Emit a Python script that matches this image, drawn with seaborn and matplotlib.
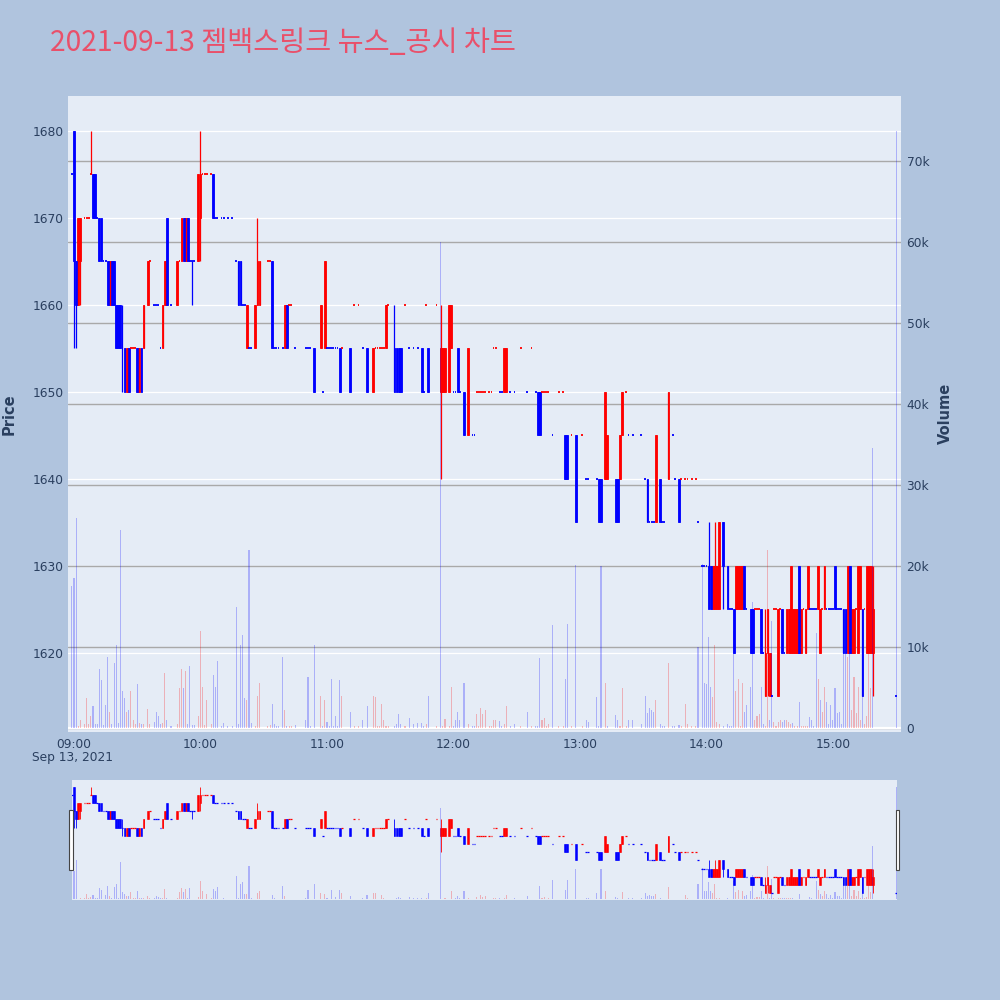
import matplotlib
matplotlib.use("Agg")
import matplotlib.pyplot as plt
from matplotlib.patches import Rectangle
import seaborn as sns
import numpy as np
import pandas as pd

# one-minute candles, 2021-09-13
times = [
    # 09h
    "08:59", "09:00", "09:01", "09:02", "09:03", "09:05", "09:06", "09:07", "09:08", "09:09",
    "09:10", "09:11", "09:12", "09:13", "09:14", "09:15", "09:16", "09:17", "09:18", "09:19",
    "09:20", "09:21", "09:22", "09:23", "09:24", "09:25", "09:26", "09:27", "09:28", "09:29",
    "09:30", "09:31", "09:32", "09:33", "09:35", "09:36", "09:38", "09:39", "09:40", "09:41",
    "09:42", "09:43", "09:44", "09:46", "09:49", "09:50", "09:51", "09:52", "09:53", "09:54",
    "09:55", "09:56", "09:57", "09:59",
    # 10h
    "10:00", "10:01", "10:02", "10:03", "10:05", "10:06", "10:07", "10:08", "10:10", "10:11",
    "10:13", "10:15", "10:17", "10:18", "10:19", "10:20", "10:21", "10:22", "10:23", "10:24",
    "10:26", "10:27", "10:28", "10:32", "10:33", "10:34", "10:35", "10:36", "10:37", "10:39",
    "10:40", "10:41", "10:42", "10:43", "10:45", "10:50", "10:51", "10:52", "10:54", "10:57",
    "10:58", "10:59",
    # 11h
    "11:00", "11:01", "11:02", "11:03", "11:04", "11:05", "11:06", "11:07", "11:11", "11:13",
    "11:15", "11:17", "11:19", "11:22", "11:23", "11:24", "11:25", "11:26", "11:27", "11:28",
    "11:29", "11:32", "11:33", "11:34", "11:35", "11:37", "11:39", "11:41", "11:43", "11:45",
    "11:46", "11:47", "11:48", "11:52", "11:54", "11:55", "11:56", "11:58", "11:59",
    # 12h
    "12:00", "12:01", "12:02", "12:03", "12:05", "12:07", "12:09", "12:10", "12:11", "12:12",
    "12:13", "12:14", "12:15", "12:17", "12:18", "12:19", "12:20", "12:22", "12:23", "12:24",
    "12:25", "12:27", "12:29", "12:32", "12:35", "12:37", "12:39", "12:40", "12:41", "12:42",
    "12:43", "12:44", "12:45", "12:47", "12:50", "12:52", "12:53", "12:54", "12:56", "12:58",
    # 13h
    "13:01", "13:03", "13:04", "13:08", "13:09", "13:10", "13:12", "13:13", "13:17", "13:18",
    "13:19", "13:20", "13:22", "13:23", "13:25", "13:29", "13:31", "13:32", "13:33", "13:34",
    "13:35", "13:36", "13:38", "13:39", "13:40", "13:42", "13:44", "13:45", "13:47", "13:48",
    "13:50", "13:51", "13:53", "13:55", "13:56", "13:58", "13:59",
    # 14h
    "14:00", "14:01", "14:02", "14:03", "14:04", "14:05", "14:06", "14:08", "14:10", "14:11",
    "14:12", "14:13", "14:14", "14:15", "14:16", "14:17", "14:18", "14:19", "14:21", "14:22",
    "14:23", "14:24", "14:25", "14:26", "14:27", "14:28", "14:29", "14:30", "14:31", "14:32",
    "14:33", "14:34", "14:35", "14:36", "14:37", "14:38", "14:39", "14:40", "14:41", "14:42",
    "14:43", "14:44", "14:45", "14:46", "14:47", "14:48", "14:49", "14:50", "14:51", "14:52",
    "14:53", "14:54", "14:55", "14:56", "14:57", "14:58", "14:59",
    # 15h
    "15:00", "15:01", "15:02", "15:03", "15:04", "15:05", "15:06", "15:07", "15:08", "15:09",
    "15:10", "15:11", "15:12", "15:13", "15:14", "15:15", "15:16", "15:17", "15:18", "15:19",
    "15:30",
]

opens = [
    1675, 1680, 1665, 1660, 1665, 1670, 1670, 1670, 1675, 1675,
    1675, 1670, 1670, 1670, 1665, 1665, 1665, 1660, 1665, 1665,
    1660, 1660, 1660, 1655, 1655, 1650, 1655, 1655, 1655, 1655,
    1655, 1650, 1655, 1655, 1660, 1665, 1660, 1660, 1660, 1655,
    1655, 1660, 1670, 1660, 1660, 1665, 1665, 1670, 1665, 1670,
    1665, 1665, 1665, 1665,
    1670, 1675, 1675, 1675, 1675, 1675, 1670, 1670, 1670, 1670,
    1670, 1670, 1665, 1665, 1665, 1660, 1660, 1655, 1655, 1655,
    1655, 1660, 1660, 1665, 1665, 1665, 1655, 1655, 1655, 1655,
    1655, 1660, 1660, 1660, 1655, 1655, 1655, 1655, 1655, 1655,
    1650, 1655,
    1655, 1655, 1655, 1655, 1655, 1655, 1655, 1655, 1655, 1660,
    1660, 1655, 1655, 1650, 1655, 1655, 1655, 1655, 1655, 1655,
    1660, 1655, 1655, 1655, 1655, 1660, 1655, 1655, 1655, 1655,
    1650, 1660, 1655, 1660, 1650, 1650, 1650, 1650, 1655,
    1650, 1650, 1655, 1650, 1650, 1645, 1645, 1645, 1650, 1650,
    1650, 1650, 1650, 1650, 1650, 1655, 1655, 1650, 1650, 1650,
    1650, 1650, 1650, 1655, 1650, 1655, 1650, 1650, 1650, 1650,
    1650, 1650, 1650, 1645, 1650, 1650, 1645, 1645, 1645, 1645,
    1645, 1640, 1640, 1640, 1640, 1640, 1640, 1640, 1640, 1640,
    1640, 1645, 1650, 1645, 1645, 1645, 1640, 1640, 1635, 1635,
    1635, 1635, 1640, 1635, 1635, 1640, 1645, 1640, 1640, 1640,
    1640, 1640, 1640, 1640, 1635, 1630, 1630,
    1630, 1630, 1630, 1625, 1625, 1625, 1625, 1635, 1630, 1625,
    1625, 1625, 1625, 1625, 1625, 1625, 1630, 1625, 1625, 1625,
    1625, 1625, 1625, 1625, 1620, 1615, 1620, 1615, 1615, 1625,
    1625, 1615, 1625, 1625, 1620, 1620, 1620, 1620, 1620, 1620,
    1620, 1630, 1620, 1625, 1620, 1625, 1625, 1625, 1625, 1625,
    1625, 1620, 1625, 1625, 1625, 1625, 1625,
    1625, 1630, 1625, 1625, 1625, 1625, 1625, 1620, 1630, 1620,
    1620, 1625, 1620, 1625, 1625, 1625, 1620, 1620, 1620, 1620,
    1615,
]

highs = [
    1675, 1680, 1665, 1670, 1670, 1670, 1670, 1670, 1680, 1675,
    1675, 1670, 1670, 1670, 1665, 1665, 1665, 1665, 1665, 1665,
    1660, 1660, 1660, 1660, 1655, 1655, 1655, 1655, 1655, 1655,
    1655, 1655, 1655, 1660, 1665, 1665, 1660, 1660, 1660, 1655,
    1660, 1665, 1670, 1660, 1665, 1665, 1670, 1670, 1670, 1670,
    1665, 1665, 1665, 1675,
    1680, 1675, 1675, 1675, 1675, 1675, 1670, 1670, 1670, 1670,
    1670, 1670, 1665, 1665, 1665, 1660, 1660, 1660, 1655, 1655,
    1660, 1670, 1665, 1665, 1665, 1665, 1655, 1655, 1655, 1655,
    1660, 1660, 1660, 1660, 1655, 1655, 1655, 1655, 1655, 1660,
    1650, 1665,
    1655, 1655, 1655, 1655, 1655, 1655, 1655, 1655, 1655, 1660,
    1660, 1655, 1655, 1655, 1655, 1655, 1655, 1655, 1655, 1660,
    1660, 1660, 1655, 1655, 1655, 1660, 1655, 1655, 1655, 1655,
    1650, 1660, 1655, 1660, 1660, 1655, 1655, 1660, 1660,
    1650, 1650, 1655, 1650, 1650, 1655, 1645, 1645, 1650, 1650,
    1650, 1650, 1650, 1650, 1650, 1655, 1655, 1650, 1650, 1655,
    1655, 1650, 1650, 1655, 1650, 1655, 1650, 1650, 1650, 1650,
    1650, 1650, 1650, 1645, 1650, 1650, 1645, 1645, 1645, 1645,
    1645, 1640, 1640, 1640, 1640, 1640, 1650, 1645, 1640, 1640,
    1645, 1650, 1650, 1645, 1645, 1645, 1640, 1640, 1635, 1635,
    1635, 1645, 1640, 1635, 1635, 1650, 1645, 1640, 1640, 1640,
    1640, 1640, 1640, 1640, 1635, 1630, 1630,
    1630, 1635, 1630, 1630, 1635, 1630, 1635, 1635, 1630, 1625,
    1625, 1625, 1630, 1630, 1630, 1630, 1630, 1625, 1625, 1625,
    1625, 1625, 1625, 1625, 1620, 1625, 1625, 1620, 1615, 1625,
    1625, 1625, 1625, 1625, 1620, 1625, 1625, 1630, 1625, 1625,
    1625, 1630, 1625, 1625, 1625, 1630, 1625, 1625, 1625, 1625,
    1630, 1625, 1625, 1630, 1625, 1625, 1625,
    1625, 1630, 1625, 1625, 1625, 1625, 1625, 1630, 1630, 1625,
    1625, 1625, 1630, 1630, 1625, 1625, 1630, 1630, 1630, 1630,
    1615,
]

lows = [
    1675, 1655, 1655, 1660, 1660, 1670, 1670, 1670, 1675, 1670,
    1670, 1670, 1665, 1665, 1665, 1665, 1660, 1660, 1660, 1660,
    1655, 1655, 1655, 1650, 1650, 1650, 1650, 1655, 1655, 1655,
    1650, 1650, 1650, 1655, 1660, 1665, 1660, 1660, 1660, 1655,
    1655, 1660, 1660, 1660, 1660, 1665, 1665, 1665, 1665, 1665,
    1665, 1660, 1665, 1665,
    1665, 1675, 1675, 1675, 1675, 1670, 1670, 1670, 1670, 1670,
    1670, 1670, 1665, 1660, 1660, 1660, 1660, 1655, 1655, 1655,
    1655, 1660, 1660, 1665, 1665, 1655, 1655, 1655, 1655, 1655,
    1655, 1655, 1660, 1660, 1655, 1655, 1655, 1655, 1650, 1655,
    1650, 1655,
    1655, 1655, 1655, 1655, 1655, 1655, 1650, 1655, 1650, 1660,
    1660, 1655, 1650, 1650, 1655, 1655, 1655, 1655, 1655, 1655,
    1660, 1650, 1650, 1650, 1650, 1660, 1655, 1655, 1655, 1650,
    1650, 1660, 1650, 1660, 1640, 1650, 1650, 1650, 1655,
    1650, 1650, 1650, 1650, 1645, 1645, 1645, 1645, 1650, 1650,
    1650, 1650, 1650, 1650, 1650, 1655, 1655, 1650, 1650, 1650,
    1650, 1650, 1650, 1655, 1650, 1655, 1650, 1645, 1645, 1650,
    1650, 1650, 1650, 1645, 1650, 1650, 1640, 1640, 1645, 1635,
    1645, 1640, 1640, 1640, 1635, 1635, 1640, 1640, 1635, 1635,
    1640, 1645, 1650, 1645, 1645, 1645, 1640, 1635, 1635, 1635,
    1635, 1635, 1635, 1635, 1635, 1640, 1645, 1640, 1635, 1640,
    1640, 1640, 1640, 1640, 1635, 1630, 1630,
    1630, 1625, 1625, 1625, 1625, 1625, 1625, 1625, 1625, 1625,
    1625, 1620, 1625, 1625, 1625, 1625, 1625, 1625, 1620, 1620,
    1625, 1625, 1625, 1620, 1620, 1615, 1615, 1615, 1615, 1625,
    1625, 1615, 1625, 1620, 1620, 1620, 1620, 1620, 1620, 1620,
    1620, 1620, 1620, 1625, 1620, 1625, 1625, 1625, 1625, 1625,
    1625, 1620, 1625, 1625, 1625, 1625, 1625,
    1625, 1625, 1625, 1625, 1625, 1620, 1620, 1620, 1620, 1620,
    1620, 1625, 1620, 1625, 1615, 1625, 1620, 1620, 1620, 1615,
    1615,
]

closes = [
    1675, 1665, 1660, 1670, 1670, 1670, 1670, 1670, 1675, 1670,
    1670, 1670, 1665, 1665, 1665, 1665, 1660, 1665, 1660, 1660,
    1655, 1655, 1655, 1655, 1650, 1655, 1650, 1655, 1655, 1655,
    1650, 1655, 1650, 1660, 1665, 1665, 1660, 1660, 1660, 1655,
    1660, 1665, 1660, 1660, 1665, 1665, 1670, 1665, 1670, 1665,
    1665, 1665, 1665, 1675,
    1675, 1675, 1675, 1675, 1675, 1670, 1670, 1670, 1670, 1670,
    1670, 1670, 1665, 1660, 1660, 1660, 1660, 1660, 1655, 1655,
    1660, 1665, 1665, 1665, 1665, 1655, 1655, 1655, 1655, 1655,
    1660, 1655, 1660, 1660, 1655, 1655, 1655, 1655, 1650, 1660,
    1650, 1665,
    1655, 1655, 1655, 1655, 1655, 1655, 1650, 1655, 1650, 1660,
    1660, 1655, 1650, 1655, 1655, 1655, 1655, 1655, 1655, 1660,
    1660, 1650, 1650, 1650, 1650, 1660, 1655, 1655, 1655, 1650,
    1650, 1660, 1650, 1660, 1655, 1655, 1655, 1660, 1660,
    1650, 1650, 1650, 1650, 1645, 1655, 1645, 1645, 1650, 1650,
    1650, 1650, 1650, 1650, 1650, 1655, 1655, 1650, 1650, 1655,
    1655, 1650, 1650, 1655, 1650, 1655, 1650, 1645, 1645, 1650,
    1650, 1650, 1650, 1645, 1650, 1650, 1640, 1640, 1645, 1635,
    1645, 1640, 1640, 1640, 1635, 1635, 1650, 1645, 1635, 1635,
    1645, 1650, 1650, 1645, 1645, 1645, 1640, 1635, 1635, 1635,
    1635, 1645, 1635, 1635, 1635, 1650, 1645, 1640, 1635, 1640,
    1640, 1640, 1640, 1640, 1635, 1630, 1630,
    1630, 1625, 1625, 1630, 1630, 1630, 1635, 1630, 1625, 1625,
    1625, 1620, 1630, 1630, 1630, 1630, 1625, 1625, 1620, 1620,
    1625, 1625, 1625, 1620, 1620, 1620, 1625, 1620, 1615, 1625,
    1625, 1625, 1625, 1620, 1620, 1625, 1625, 1630, 1625, 1625,
    1625, 1620, 1625, 1625, 1625, 1630, 1625, 1625, 1625, 1625,
    1630, 1625, 1625, 1630, 1625, 1625, 1625,
    1625, 1625, 1625, 1625, 1625, 1620, 1620, 1630, 1620, 1625,
    1625, 1625, 1630, 1630, 1615, 1625, 1630, 1630, 1630, 1625,
    1615,
]

volumes = [
    17500, 18500, 25900, 300, 1000, 500, 3700, 500, 1500, 2700,
    500, 500, 7300, 5900, 400, 2900, 8800, 2000, 500, 8000,
    10200, 600, 24400, 4600, 3700, 2000, 2200, 4600, 1000, 500,
    5400, 600, 500, 500, 2400, 500, 700, 2000, 1500, 500,
    600, 6800, 1000, 300, 500, 4900, 7300, 4900, 7000, 500,
    7600, 400, 400, 1500,
    12000, 5100, 400, 3400, 500, 6600, 5100, 8300, 300, 600,
    300, 300, 14900, 500, 10200, 11500, 3700, 3400, 22000, 600,
    300, 4000, 5500, 300, 400, 3000, 500, 300, 300, 8800,
    2200, 300, 300, 300, 400, 1000, 6300, 300, 10200, 4000,
    300, 3500,
    800, 300, 6100, 300, 1500, 300, 5900, 4000, 2000, 300,
    300, 1000, 2700, 4000, 3800, 300, 300, 3000, 1000, 300,
    300, 300, 500, 1700, 500, 300, 1200, 500, 600, 600,
    300, 500, 4000, 300, 60000, 300, 1100, 300, 5100,
    300, 1000, 2000, 1000, 5600, 500, 300, 300, 1700, 300,
    2500, 1700, 2200, 300, 300, 1000, 1000, 900, 300, 500,
    2700, 300, 500, 300, 2000, 300, 300, 300, 8700, 1000,
    1200, 300, 500, 12700, 300, 300, 6100, 12900, 300, 20100,
    300, 1000, 800, 3800, 300, 20000, 5500, 300, 1600, 1000,
    300, 5000, 300, 1000, 1000, 500, 3900, 1900, 2500, 2200,
    2000, 3400, 500, 300, 300, 8000, 300, 300, 400, 300,
    3000, 500, 300, 300, 10000, 20200, 5600,
    5400, 11200, 5100, 3800, 10200, 700, 500, 300, 500, 300,
    300, 12000, 4600, 6100, 300, 5600, 2000, 2900, 5100, 15600,
    1000, 1500, 1700, 5100, 500, 300, 22000, 1000, 13200, 800,
    300, 800, 1000, 700, 1000, 1000, 700, 500, 600, 300,
    300, 3200, 300, 300, 300, 300, 1400, 1000, 300, 11700,
    6000, 3400, 2000, 5100, 3200, 500, 2900,
    1000, 4900, 1900, 2000, 500, 12200, 14100, 8800, 9500, 2200,
    6300, 1900, 5100, 1000, 3900, 500, 1500, 9300, 4900, 34600,
    73700,
]

price_ticks = [1620, 1630, 1640, 1650, 1660, 1670, 1680]
volume_ticks = [0, 10000, 20000, 30000, 40000, 50000, 60000, 70000]
volume_tick_labels = ["0", "10k", "20k", "30k", "40k", "50k", "60k", "70k"]
hour_labels = ["09:00", "10:00", "11:00", "12:00", "13:00", "14:00", "15:00"]
title_text = "2021-09-13 젬백스링크 뉴스_공시 차트"

UP = "#ff0000"
DOWN = "#0000ff"
PAGE_BG = "#b0c4de"
PLOT_BG = "#e5ecf6"
TEXT = "#2a3f5f"

PRICE_LIM = (1610.9, 1684.0)
VOL_LIM = (-490, 78000)


def to_minute(t):
    h, m = t.split(":")
    return int(h) * 60 + int(m) - 540


df = pd.DataFrame({
    "time": times, "open": opens, "high": highs,
    "low": lows, "close": closes, "volume": volumes,
})
df["minute"] = df["time"].map(to_minute)

# candle direction (a flat candle follows the move from the previous close)
dirs = []
prev_close, prev_dir = None, "down"
for o, c in zip(df["open"], df["close"]):
    if c > o:
        d = "up"
    elif c < o:
        d = "down"
    elif prev_close is not None and c > prev_close:
        d = "up"
    elif prev_close is not None and c < prev_close:
        d = "down"
    else:
        d = prev_dir
    dirs.append(d)
    prev_close, prev_dir = c, d
df["dir"] = dirs

# volume bar colour: close against the previous close
vdirs = []
for i, c in enumerate(df["close"]):
    if i > 0 and c > df["close"].iloc[i - 1]:
        vdirs.append("up")
    elif i > 0 and c < df["close"].iloc[i - 1]:
        vdirs.append("down")
    else:
        vdirs.append(dirs[i])
df["vdir"] = vdirs


def draw_candles(ax, frame, body_w, wick_lw, edge_lw, flat_lw):
    for d, col in (("up", UP), ("down", DOWN)):
        part = frame[frame["dir"] == d]
        ax.vlines(part["minute"], part["low"], part["high"], color=col, lw=wick_lw)
        moving = part[part["open"] != part["close"]]
        bottoms = np.minimum(moving["open"], moving["close"])
        heights = (moving["close"] - moving["open"]).abs()
        ax.bar(moving["minute"], heights, bottom=bottoms, width=body_w,
               color=col, edgecolor=col, linewidth=edge_lw)
        flat = part[part["open"] == part["close"]]
        ax.hlines(flat["close"], flat["minute"] - body_w / 2, flat["minute"] + body_w / 2,
                  color=col, lw=flat_lw)


def draw_volume(ax, frame, shrink):
    sns.histplot(data=frame, x="minute", weights="volume", hue="vdir",
                 hue_order=["up", "down"], palette={"up": UP, "down": DOWN},
                 discrete=True, shrink=shrink, alpha=0.25, linewidth=0,
                 legend=False, ax=ax)


sns.set_theme(style="dark")
plt.rcParams["font.family"] = ["DejaVu Sans", "Noto Sans CJK KR"]

fig = plt.figure(figsize=(10, 10), dpi=100, facecolor=PAGE_BG)

# main panel: price host + volume axis + candle layer + volume-bar layer
ax_p = fig.add_axes([0.068, 0.268, 0.833, 0.636])
ax_p.set_facecolor(PLOT_BG)
ax_v = ax_p.twinx()
ax_c = ax_p.twinx()
ax_b = ax_p.twinx()

xlim_main = (-2.85, 392.3)

ax_p.set_ylim(*PRICE_LIM)
ax_p.set_yticks(price_ticks)
ax_p.yaxis.grid(True, color="white", lw=0.9)
ax_p.xaxis.grid(False)
ax_p.set_xticks([i * 60 for i in range(len(hour_labels))])
ax_p.set_xticklabels(hour_labels)
ax_p.tick_params(axis="x", length=0, pad=4, labelsize=8.8, labelcolor=TEXT)
ax_p.tick_params(axis="y", length=0, pad=3, labelsize=8.8, labelcolor=TEXT)

ax_v.set_ylim(*VOL_LIM)
ax_v.set_yticks(volume_ticks)
ax_v.set_yticklabels(volume_tick_labels)
ax_v.yaxis.grid(True, color="#a9a9a9", lw=1.0)
ax_v.axhline(0, color="white", lw=1.6, zorder=3)
ax_v.tick_params(axis="y", length=0, pad=4, labelsize=8.8, labelcolor=TEXT)

draw_candles(ax_c, df, body_w=0.85, wick_lw=0.9, edge_lw=0.6, flat_lw=1.3)
ax_c.set_ylim(*PRICE_LIM)
draw_volume(ax_b, df, shrink=0.5)
ax_b.set_ylim(*VOL_LIM)

for a in (ax_p, ax_v, ax_c, ax_b):
    a.set_xlim(*xlim_main)
    a.set_xlabel("")
    a.set_ylabel("")
    for s in a.spines.values():
        s.set_visible(False)
ax_c.axis("off")
ax_b.axis("off")

# range slider
ax_s = fig.add_axes([0.072, 0.100, 0.825, 0.120])
ax_s.set_facecolor(PLOT_BG)
ax_sb = ax_s.twinx()
draw_candles(ax_s, df, body_w=0.85, wick_lw=0.6, edge_lw=0.4, flat_lw=0.9)
ax_s.set_ylim(*PRICE_LIM)
draw_volume(ax_sb, df, shrink=0.5)
ax_sb.set_ylim(*VOL_LIM)
for a in (ax_s, ax_sb):
    a.set_xlim(-0.95, 390.4)
    a.set_xticks([])
    a.set_yticks([])
    a.set_xlabel("")
    a.set_ylabel("")
    a.grid(False)
    for s in a.spines.values():
        s.set_visible(False)

for hx in (0.0693, 0.8957):
    fig.patches.append(Rectangle((hx, 0.130), 0.0037, 0.060, transform=fig.transFigure,
                                 facecolor="white", edgecolor="#444444", lw=0.8))

# texts
fig.text(0.05, 0.957, title_text, color="#e9506a", fontsize=20.4,
         family=["Noto Sans CJK KR", "DejaVu Sans"], ha="left", va="center")
fig.text(0.0095, 0.586, "Price", rotation=90, color=TEXT, fontsize=10.5,
         fontweight="bold", ha="center", va="center")
fig.text(0.945, 0.587, "Volume", rotation=90, color=TEXT, fontsize=10.5,
         fontweight="bold", ha="center", va="center")
fig.text(0.073, 0.242, "Sep 13, 2021", color=TEXT, fontsize=8.8, ha="center", va="center")

fig.savefig("out.png", dpi=100, facecolor=PAGE_BG)
